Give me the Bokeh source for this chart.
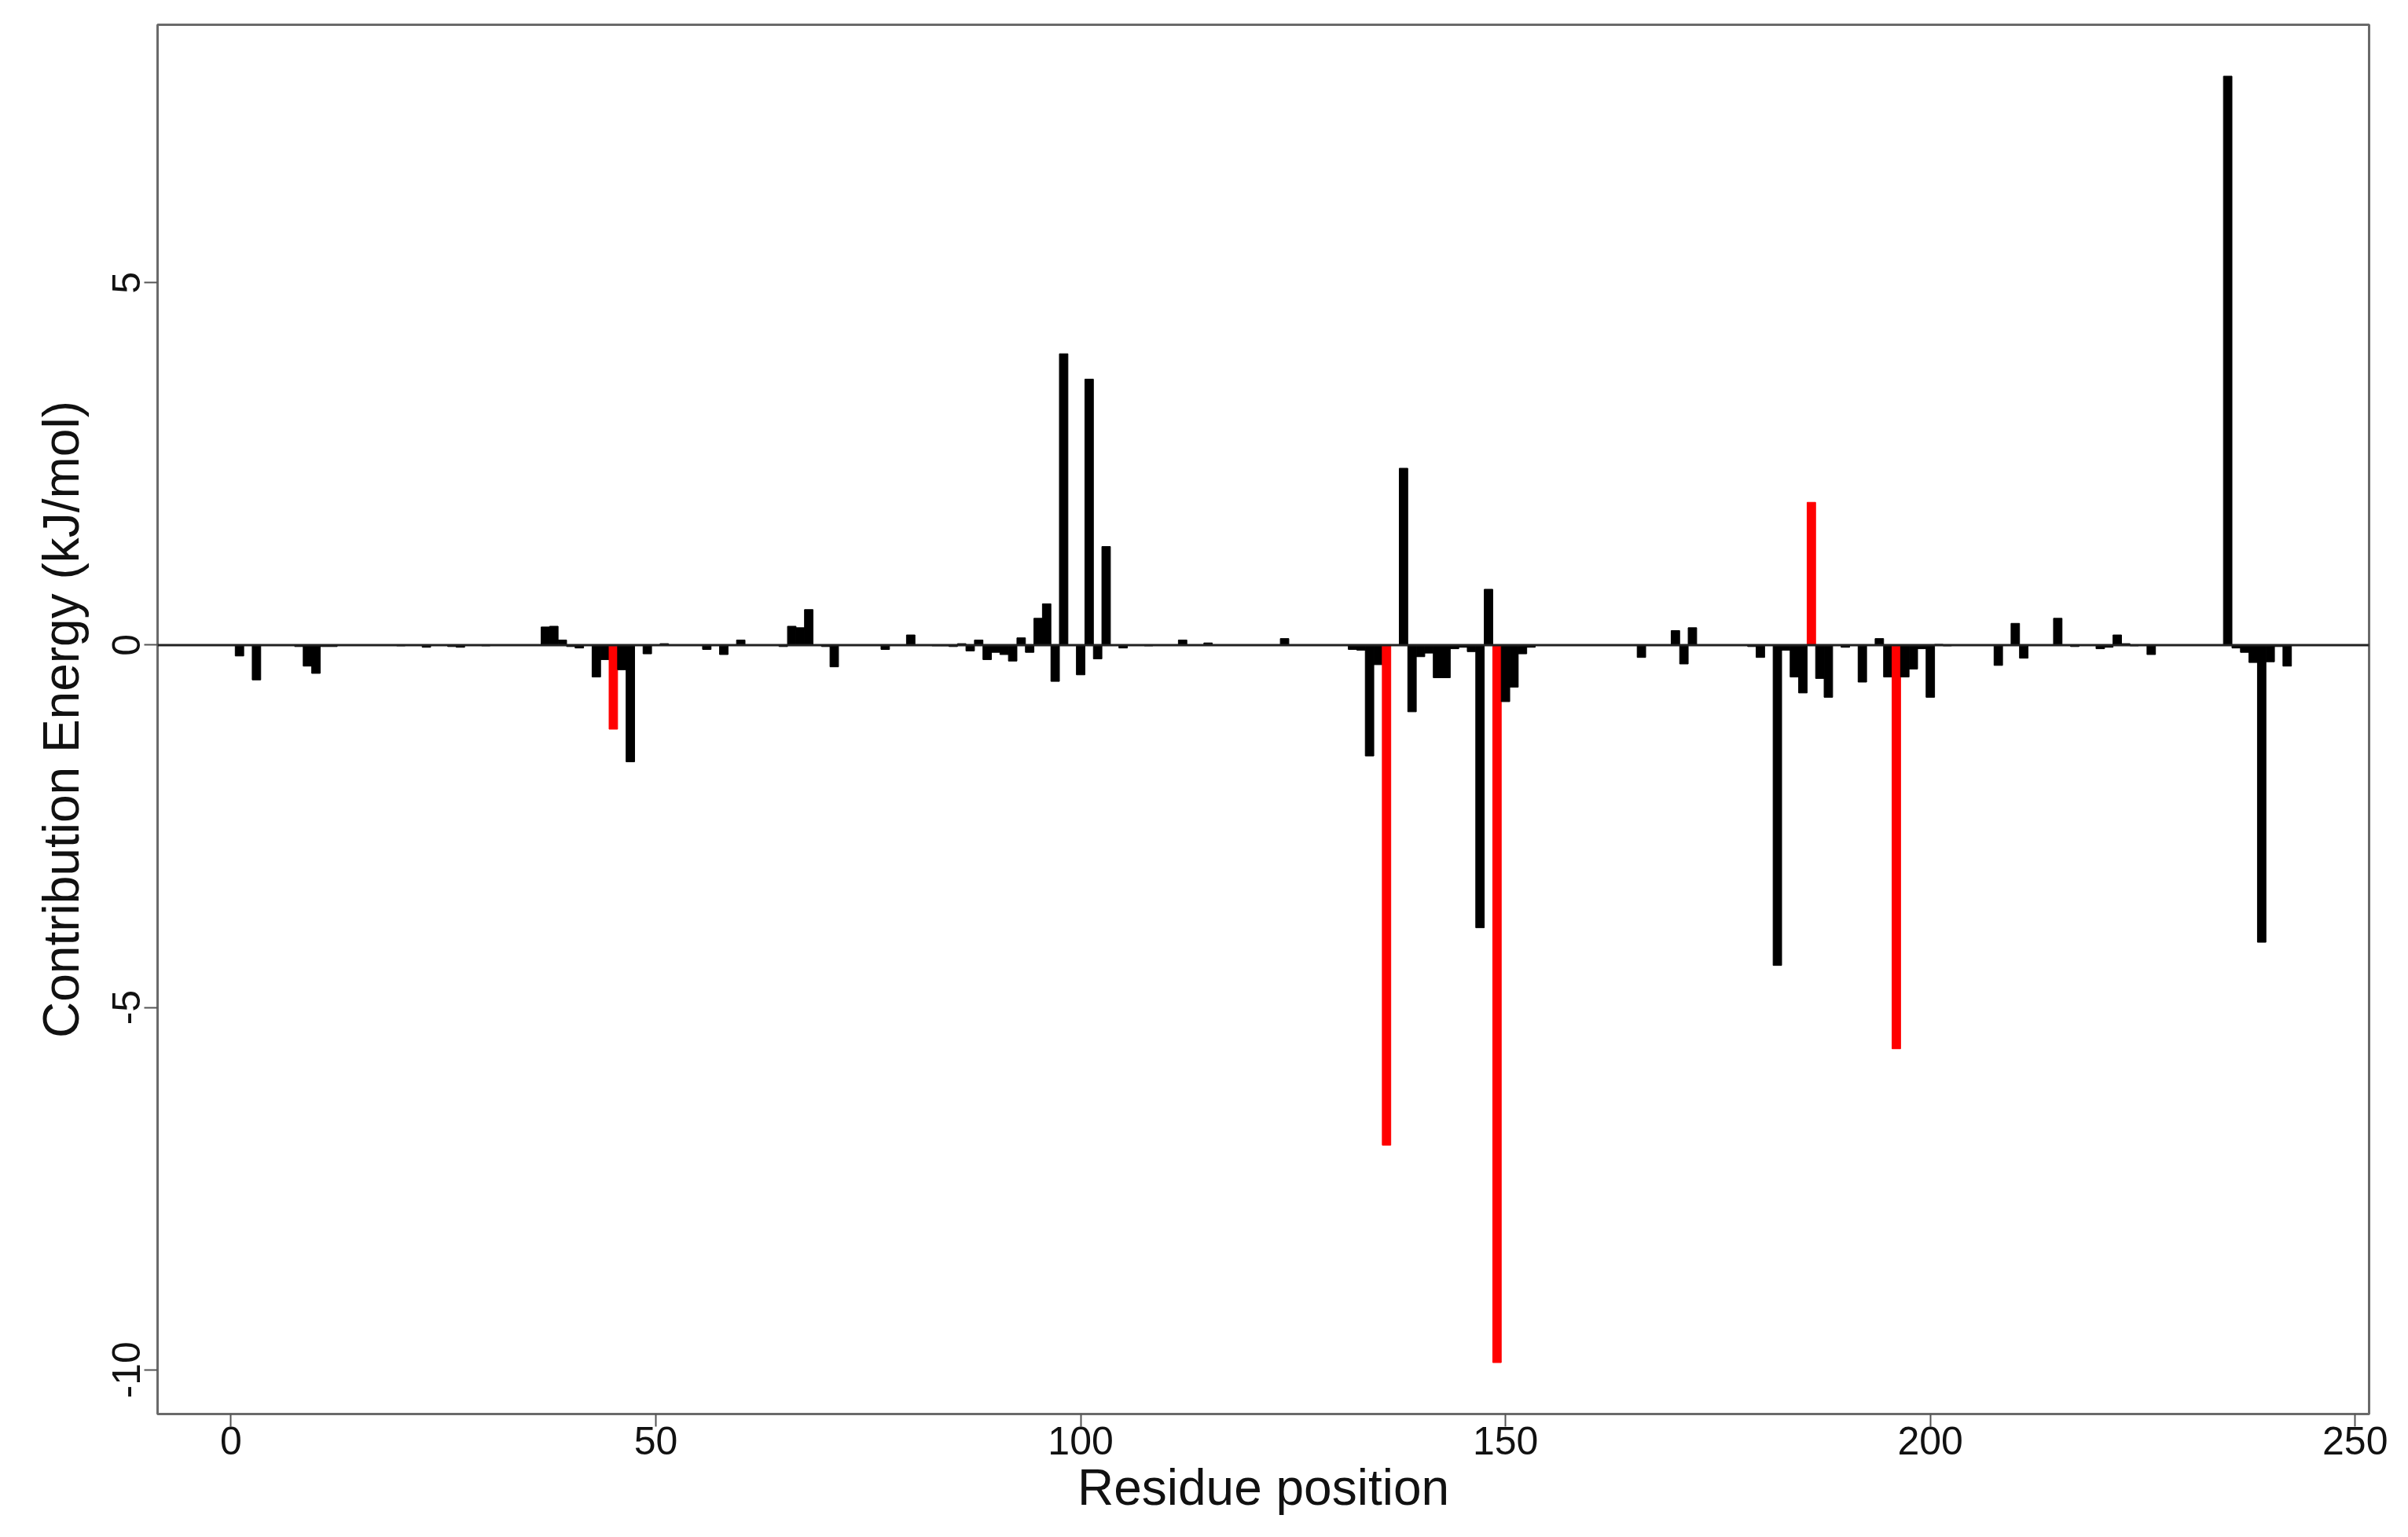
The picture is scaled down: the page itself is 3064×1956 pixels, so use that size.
from bokeh.plotting import figure
from bokeh.models import Range1d, FixedTicker, Span, ColumnDataSource
from bokeh.embed import file_html
from bokeh.resources import INLINE

# ---- data -------------------------------------------------------------
residues = list(range(1, 243))
energy = [
    -0.15, 0, -0.48, 0, 0, 0, 0, -0.02, -0.29, -0.39,
    -0.02, -0.02, 0, 0, 0, 0, 0, 0, 0, -0.01,
    0, 0, -0.03, 0, 0, -0.02, -0.03, 0, 0, -0.01,
    0, 0, 0, 0, 0, 0, 0.25, 0.26, 0.07, -0.02,
    -0.04, 0, -0.44, -0.20, -1.16, -0.34, -1.61, 0, -0.12, 0,
    0.02, 0, 0, 0, 0, -0.06, 0, -0.13, 0, 0.07,
    0, 0, 0, 0, -0.02, 0.26, 0.24, 0.49, 0, -0.02,
    -0.30, 0, 0, 0, 0, 0, -0.06, 0, 0, 0.14,
    0, 0, -0.01, -0.01, -0.02, 0.02, -0.08, 0.07, -0.20, -0.10,
    -0.13, -0.22, 0.10, -0.10, 0.37, 0.57, -0.50, 4.02, 0, -0.41,
    3.67, -0.19, 1.36, 0, -0.04, 0, 0, -0.01, 0, 0,
    0, 0.07, 0, 0, 0.03, 0, 0, 0, 0, 0,
    0, 0, 0, 0.09, 0, 0, 0, 0, 0, 0,
    0, -0.06, -0.07, -1.53, -0.27, -6.90, 0, 2.44, -0.92, -0.16,
    -0.11, -0.45, -0.45, -0.05, -0.03, -0.09, -3.90, 0.77, -9.90, -0.78,
    -0.58, -0.12, -0.03, 0, 0, 0, 0, 0, 0, 0,
    0, 0, 0, 0, 0, -0.17, 0, 0, 0, 0.20,
    -0.26, 0.24, 0, 0, 0, 0, 0, 0, -0.02, -0.17,
    0, -4.42, -0.07, -0.44, -0.66, 1.97, -0.46, -0.72, 0, -0.03,
    0, -0.51, 0, 0.09, -0.44, -5.57, -0.44, -0.33, -0.05, -0.72,
    0.01, -0.01, 0, 0, 0, 0, 0, -0.28, 0, 0.30,
    -0.18, 0, 0, 0, 0.37, 0, -0.02, 0, 0, -0.05,
    -0.03, 0.14, 0.02, -0.01, 0, -0.13, 0, 0, 0, 0,
    0, 0, 0, 0, 7.85, -0.04, -0.10, -0.24, -4.10, -0.23,
    -0.02, -0.29,
]
highlighted = [45, 136, 149, 186, 196]
x_ticks = [0, 50, 100, 150, 200, 250]
y_ticks = [-10, -5, 0, 5]
y_tick_labels = ["-10", "-5", "0", "5"]
x_label = "Residue position"
y_label = "Contribution Energy (kJ/mol)"

colors = ["#ff0000" if r in highlighted else "#000000" for r in residues]
src = ColumnDataSource(dict(x=residues, top=energy, color=colors))

# R-style 4% range extension
xmin, xmax = min(residues), max(residues)
ymin, ymax = min(energy), max(energy)
xe = 0.04 * (xmax - xmin)
ye = 0.04 * (ymax - ymin)

FONT = "Liberation Sans"

p = figure(
    width=3048, height=1944,
    output_backend="svg", toolbar_location=None,
    x_range=Range1d(xmin - xe, xmax + xe),
    y_range=Range1d(ymin - ye, ymax + ye),
    min_border_left=200, min_border_right=34,
    min_border_top=31, min_border_bottom=145,
)
p.background_fill_color = "white"
p.border_fill_color = "white"
p.outline_line_color = "#6a6a6a"
p.outline_line_width = 3
p.grid.visible = False

p.vbar(x="x", top="top", bottom=0, width=1.0, color="color", source=src)

p.add_layout(Span(location=0, dimension="width", line_color="#222222", line_width=3))

for ax in (p.xaxis[0], p.yaxis[0]):
    ax.axis_line_color = None
    ax.major_tick_line_color = "#555555"
    ax.major_tick_line_width = 2
    ax.major_tick_in = 0
    ax.minor_tick_line_color = None
    ax.major_label_text_font = FONT
    ax.major_label_text_font_size = "50px"
    ax.major_label_text_color = "#111111"
    ax.axis_label_text_font = FONT
    ax.axis_label_text_font_size = "64px"
    ax.axis_label_text_font_style = "normal"
    ax.axis_label_text_color = "#111111"

p.xaxis[0].ticker = FixedTicker(ticks=x_ticks)
p.xaxis[0].major_tick_out = 16
p.xaxis[0].major_label_standoff = 0
p.xaxis[0].axis_label = x_label
p.xaxis[0].axis_label_standoff = 3

p.yaxis[0].ticker = FixedTicker(ticks=y_ticks)
p.yaxis[0].major_label_overrides = {t: s for t, s in zip(y_ticks, y_tick_labels)}
p.yaxis[0].major_tick_out = 17
p.yaxis[0].major_label_orientation = "vertical"
p.yaxis[0].major_label_standoff = 5
p.yaxis[0].axis_label = y_label
p.yaxis[0].axis_label_standoff = 27

open("out.html", "w").write(file_html(p, INLINE))
